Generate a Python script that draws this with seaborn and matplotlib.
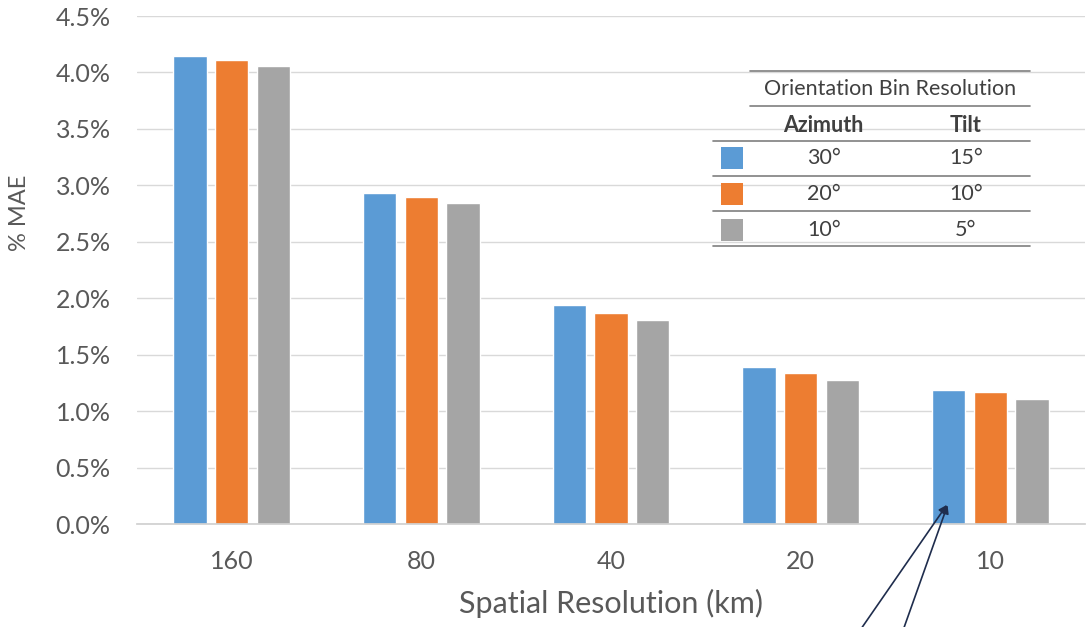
import matplotlib
matplotlib.use("Agg")
import matplotlib.pyplot as plt
from matplotlib.lines import Line2D
from matplotlib.patches import Rectangle
from matplotlib.ticker import FuncFormatter, MultipleLocator
import seaborn as sns
import pandas as pd

# Mean absolute error (%) by spatial resolution and orientation bin setting
resolutions = ["160", "80", "40", "20", "10"]
bins = ["30°/15°", "20°/10°", "10°/5°"]
mae_az30_tilt15 = [4.15, 2.93, 1.94, 1.39, 1.19]
mae_az20_tilt10 = [4.11, 2.90, 1.87, 1.34, 1.17]
mae_az10_tilt5 = [4.06, 2.84, 1.81, 1.28, 1.11]
azimuth_labels = ["30°", "20°", "10°"]
tilt_labels = ["15°", "10°", "5°"]
colors = ["#5B9BD5", "#ED7D31", "#A5A5A5"]

rows = []
for b, vals in zip(bins, [mae_az30_tilt15, mae_az20_tilt10, mae_az10_tilt5]):
    for r, v in zip(resolutions, vals):
        rows.append({"res": r, "bin": b, "mae": v})
df = pd.DataFrame(rows)

sns.set_theme(style="white")
plt.rcParams["font.family"] = ["Lato", "DejaVu Sans"]

W, H = 1087, 627
fig = plt.figure(figsize=(W / 100, H / 100), dpi=100)
ax = fig.add_axes([137 / W, 1 - 524 / H, (1085 - 137) / W, (524 - 16) / H])

sns.barplot(data=df, x="res", y="mae", hue="bin", order=resolutions,
            hue_order=bins, palette=colors, width=0.66, gap=0.2,
            saturation=1, legend=False, ax=ax)

ax.set_ylim(0, 4.5)
ax.set_xlim(-0.5, len(resolutions) - 0.5)
ax.yaxis.set_major_locator(MultipleLocator(0.5))
ax.yaxis.set_major_formatter(FuncFormatter(lambda v, _: f"{v:.1f}%"))
ax.grid(axis="y", color="#d9d9d9", linewidth=1)
ax.set_axisbelow(True)
for s in ["top", "right", "left"]:
    ax.spines[s].set_visible(False)
ax.spines["bottom"].set_color("#d0d0d0")
ax.tick_params(axis="both", colors="#595959", labelsize=18, length=0)
ax.tick_params(axis="x", pad=19)
ax.tick_params(axis="y", pad=19)
ax.set_xlabel("Spatial Resolution (km)", fontsize=22, color="#595959", labelpad=11)
ax.set_ylabel("% MAE", fontsize=17, color="#595959")
ax.yaxis.set_label_coords(-0.113, 0.612)


def px(x, y):
    return x / W, 1 - y / H


# Table-style legend for the orientation bins
line_kw = dict(color="#7f7f7f", linewidth=1.2, transform=fig.transFigure)
for x0, y in [(750, 71), (750, 106), (713, 141), (713, 176), (713, 211), (713, 246)]:
    (xa, ya), (xb, _) = px(x0, y), px(1030, y)
    fig.add_artist(Line2D([xa, xb], [ya, ya], **line_kw))

txt_kw = dict(color="#404040", ha="center", va="center", fontsize=15.5)
fig.text(*px(890, 89), "Orientation Bin Resolution", **txt_kw)
fig.text(*px(823, 126), "Azimuth", fontweight="bold", **txt_kw)
fig.text(*px(966, 126), "Tilt", fontweight="bold", **txt_kw)
for i, (c, az, tl) in enumerate(zip(colors, azimuth_labels, tilt_labels)):
    yc = 158 + i * 36
    x0, y0 = px(721, yc + 11)
    fig.add_artist(Rectangle((x0, y0), 22 / W, 22 / H, facecolor=c,
                             edgecolor="none", transform=fig.transFigure))
    fig.text(*px(824, yc), az, **txt_kw)
    fig.text(*px(966, yc), tl, **txt_kw)

# Pointer arrows from below the plot onto the 10 km bar
arrow_kw = dict(arrowstyle="-|>", color="#1f2d4d", lw=1.2, mutation_scale=12)
for tail_x in [858, 902]:
    ax.annotate("", xy=(3.78, 0.19), xycoords="data",
                xytext=(tail_x / W, -0.01), textcoords="figure fraction",
                arrowprops=arrow_kw, annotation_clip=False)

fig.savefig("out.png", dpi=100)
